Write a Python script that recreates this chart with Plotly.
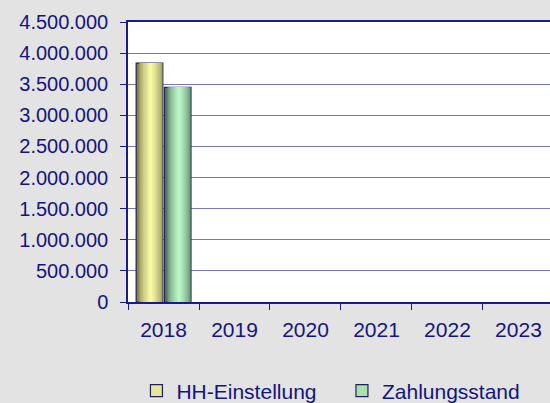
import plotly.graph_objects as go

years = ["2018", "2019", "2020", "2021", "2022", "2023"]
hh_einstellung = [3840000, None, None, None, None, None]
zahlungsstand = [3450000, None, None, None, None, None]
series_names = ["HH-Einstellung", "Zahlungsstand"]

TEXT = "#14147f"
FONT = "Liberation Sans, Arial, sans-serif"
FS = 21


def mix(c1, c2, t):
    a = [int(c1[i:i + 2], 16) for i in (1, 3, 5)]
    b = [int(c2[i:i + 2], 16) for i in (1, 3, 5)]
    return "#" + "".join(f"{round(x + (y - x) * t):02x}" for x, y in zip(a, b))


fig = go.Figure()

specs = [
    (series_names[0], hh_einstellung, -0.385, "#85854f", "#ffffa8", "#e6e69a", "legend"),
    (series_names[1], zahlungsstand, 0.012, "#4f7560", "#c2ffca", "#a8e0b0", "legend2"),
]
W = 0.375
N = 10
for name, vals, off, edge, center, legend_col, leg in specs:
    fig.add_trace(go.Bar(
        x=years, y=vals, name=name, width=W, offset=off,
        marker=dict(color=edge, line=dict(color="#20205a", width=1.2)),
        showlegend=False, hoverinfo="skip",
    ))
    for i in range(1, N):
        t = i / N
        w = W * (1 - t) * 0.97
        c = off + W * 0.55
        fig.add_trace(go.Bar(
            x=years, y=vals, width=w, offset=c - w / 2,
            marker=dict(color=mix(edge, center, t ** 0.6), line=dict(width=0)),
            showlegend=False, hoverinfo="skip",
        ))
    fig.add_trace(go.Bar(
        x=years, y=[None] * len(years), name=name,
        marker=dict(color=legend_col, line=dict(color="#20205a", width=1.2)),
        showlegend=True, legend=leg,
    ))

leg_common = dict(
    orientation="h", xanchor="left", y=-0.318, yanchor="middle",
    font=dict(size=FS, color=TEXT, family=FONT), itemwidth=30,
    bgcolor="rgba(0,0,0,0)",
)

fig.update_layout(
    barmode="overlay",
    width=550, height=403,
    paper_bgcolor="#e3e3e3",
    plot_bgcolor="#ffffff",
    margin=dict(l=128, r=0, t=22, b=101, autoexpand=False),
    separators=",.",
    font=dict(family=FONT, size=FS, color=TEXT),
    legend=dict(x=0.02, **leg_common),
    legend2=dict(x=0.507, **leg_common),
    xaxis=dict(
        type="category", range=[-0.5, 5.444], showgrid=False,
        showline=True, linecolor="#1a1a8c", linewidth=1.5, mirror=True,
        ticks="outside", ticklen=6, tickcolor="#1a1a8c", tickson="boundaries",
        ticklabelstandoff=8,
        tickfont=dict(size=FS, color=TEXT, family=FONT),
    ),
    yaxis=dict(
        range=[0, 4500000], dtick=500000, tickformat=",d",
        showgrid=True, gridcolor="#7474c4", gridwidth=1,
        showline=True, linecolor="#1a1a8c", linewidth=1.5,
        ticks="outside", ticklen=6, tickcolor="#1a1a8c",
        ticklabelstandoff=8, zeroline=False,
        tickfont=dict(size=20, color=TEXT, family=FONT),
    ),
)

fig.write_html(
    "out.html",
    config={"displayModeBar": False},
    post_script="document.body.style.margin='0';document.body.style.overflow='hidden';",
)
